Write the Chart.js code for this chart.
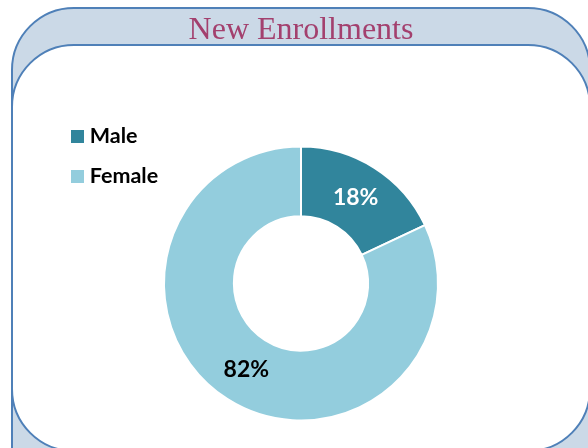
<!DOCTYPE html>
<html>
<head>
<meta charset="utf-8">
<script src="https://cdn.jsdelivr.net/npm/chart.js@4"></script>
<style>
  html, body { margin: 0; padding: 0; width: 588px; height: 448px; overflow: hidden; background: #ffffff; }
  #outer { position: absolute; left: 10.75px; top: 7.25px; width: 580.5px; height: 520px; box-sizing: border-box;
           border: 2.5px solid #4f80b8; border-radius: 63px; background: #cbd9e7; }
  #inner { position: absolute; left: 10.75px; top: 43.5px; width: 580.5px; height: 408px; box-sizing: border-box;
           border: 2.5px solid #4f80b8; border-radius: 63px; background: #ffffff; }
  #wrap { position: absolute; left: 0; top: 0; width: 588px; height: 448px; }
</style>
</head>
<body>
<div id="outer"></div>
<div id="inner"></div>
<div id="wrap"><canvas id="c" width="588" height="448"></canvas></div>
<script>
const TITLE = 'New Enrollments';
const categories = ['Male', 'Female'];
const values = [18, 82];
const sliceColors = ['#31859c', '#93cddd'];
const labelColors = ['#ffffff', '#000000'];

// layout helpers (not data)
const LEGEND_FONT = { family: 'Lato', size: 21.5, weight: 'bold' };
const LEGEND_PAD = 18.5;
const LEGEND_BOX_W = 3;
const PAD_LEFT = 57.5;
const CENTER_X = 301;
const mctx = document.createElement('canvas').getContext('2d');
mctx.font = 'bold 21.5px Lato';
const maxTextW = Math.max(...categories.map(t => mctx.measureText(t).width));
const legendW = LEGEND_PAD + LEGEND_BOX_W + LEGEND_FONT.size / 2 + maxTextW + 10;
const chartLeft = PAD_LEFT + legendW;
const PAD_RIGHT = 588 - (2 * CENTER_X - chartLeft);

const pctLabels = {
  id: 'pctLabels',
  afterDatasetsDraw(chart) {
    const ctx = chart.ctx;
    const meta = chart.getDatasetMeta(0);
    const data = chart.data.datasets[0].data;
    const total = data.reduce((a, b) => a + b, 0);
    ctx.save();
    ctx.font = 'bold 23px Lato';
    ctx.textAlign = 'center';
    ctx.textBaseline = 'middle';
    meta.data.forEach((arc, i) => {
      const p = arc.tooltipPosition();
      ctx.fillStyle = labelColors[i];
      ctx.fillText(Math.round(data[i] / total * 100) + '%', p.x, p.y);
    });
    ctx.restore();
  }
};

new Chart(document.getElementById('c'), {
  type: 'doughnut',
  data: {
    labels: categories,
    datasets: [{
      data: values,
      backgroundColor: sliceColors,
      borderColor: '#ffffff',
      borderWidth: 2,
      radius: 137,
      cutout: '49%',
      clip: false
    }]
  },
  options: {
    responsive: false,
    animation: false,
    layout: { padding: { left: PAD_LEFT, right: PAD_RIGHT, top: 0, bottom: 0 } },
    plugins: {
      title: {
        display: true,
        text: TITLE,
        position: 'top',
        fullSize: false,
        color: '#a3406e',
        font: { family: 'Liberation Serif', size: 32, weight: 'normal', lineHeight: 1.2 },
        padding: { top: 11, bottom: 69.6 }
      },
      legend: {
        position: 'left',
        align: 'start',
        fullSize: true,
        title: { display: true, text: '', padding: { top: 92.85, bottom: 0 }, font: { size: 12, lineHeight: 1.2 } },
        labels: {
          usePointStyle: true,
          pointStyle: 'rect',
          boxWidth: LEGEND_BOX_W,
          boxHeight: 15,
          padding: LEGEND_PAD,
          color: '#000000',
          font: LEGEND_FONT
        }
      },
      tooltip: { enabled: false }
    }
  },
  plugins: [pctLabels]
});
</script>
</body>
</html>
